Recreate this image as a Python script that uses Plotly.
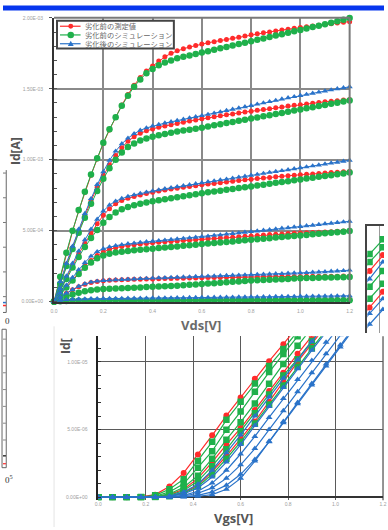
import plotly.graph_objects as go

# ================= DATA =================
# --- main chart: Id-Vds (Id in mA) ---
vds = [0.000, 0.025, 0.050, 0.075, 0.100, 0.125, 0.150, 0.175, 0.200, 0.225,
       0.250, 0.275, 0.300, 0.325, 0.350, 0.375, 0.400, 0.425, 0.450, 0.475,
       0.500, 0.525, 0.550, 0.575, 0.600, 0.625, 0.650, 0.675, 0.700, 0.725,
       0.750, 0.775, 0.800, 0.825, 0.850, 0.875, 0.900, 0.925, 0.950, 0.975,
       1.000, 1.025, 1.050, 1.075, 1.100, 1.125, 1.150, 1.175, 1.200]

meas_1 = [0, 0.170, 0.340, 0.495, 0.640, 0.770, 0.890, 1.005, 1.115, 1.210,
          1.300, 1.385, 1.460, 1.525, 1.580, 1.625, 1.660, 1.695, 1.725, 1.750,
          1.768, 1.782, 1.794, 1.805, 1.815, 1.824, 1.832, 1.840, 1.848, 1.856,
          1.864, 1.872, 1.880, 1.887, 1.894, 1.901, 1.908, 1.914, 1.920, 1.926,
          1.932, 1.938, 1.943, 1.948, 1.953, 1.958, 1.963, 1.968, 1.973]
meas_2 = [0, 0.130, 0.260, 0.380, 0.495, 0.605, 0.710, 0.805, 0.890, 0.965,
          1.030, 1.085, 1.130, 1.162, 1.187, 1.204, 1.217, 1.228, 1.238, 1.247,
          1.256, 1.264, 1.272, 1.280, 1.288, 1.295, 1.302, 1.309, 1.316, 1.323,
          1.330, 1.336, 1.342, 1.348, 1.354, 1.360, 1.366, 1.372, 1.378, 1.383,
          1.388, 1.393, 1.398, 1.403, 1.408, 1.412, 1.416, 1.420, 1.424]
meas_3 = [0, 0.085, 0.170, 0.255, 0.335, 0.410, 0.480, 0.548, 0.608, 0.655,
          0.690, 0.712, 0.728, 0.741, 0.752, 0.762, 0.771, 0.779, 0.786, 0.793,
          0.799, 0.805, 0.811, 0.817, 0.823, 0.828, 0.833, 0.838, 0.843, 0.848,
          0.853, 0.858, 0.863, 0.867, 0.871, 0.875, 0.879, 0.883, 0.887, 0.891,
          0.894, 0.897, 0.900, 0.903, 0.906, 0.909, 0.912, 0.915, 0.918]
meas_4 = [0, 0.055, 0.105, 0.155, 0.205, 0.250, 0.290, 0.325, 0.350, 0.368,
          0.380, 0.389, 0.396, 0.401, 0.406, 0.410, 0.414, 0.418, 0.421, 0.424,
          0.427, 0.430, 0.433, 0.436, 0.439, 0.442, 0.445, 0.448, 0.451, 0.454,
          0.457, 0.460, 0.463, 0.466, 0.469, 0.472, 0.475, 0.477, 0.479, 0.481,
          0.483, 0.485, 0.487, 0.489, 0.491, 0.493, 0.495, 0.497, 0.499]
meas_5 = [0, 0.030, 0.058, 0.083, 0.105, 0.122, 0.134, 0.142, 0.147, 0.150,
          0.152, 0.154, 0.156, 0.157, 0.158, 0.159, 0.160, 0.161, 0.162, 0.163,
          0.164, 0.165, 0.166, 0.167, 0.168, 0.169, 0.170, 0.170, 0.171, 0.172,
          0.172, 0.173, 0.174, 0.174, 0.175, 0.175, 0.176, 0.176, 0.177, 0.177,
          0.177, 0.178, 0.178, 0.178, 0.179, 0.179, 0.179, 0.180, 0.180]
meas_6 = [0, 0.004, 0.006, 0.007, 0.008, 0.008, 0.009, 0.009, 0.009, 0.010,
          0.010, 0.010, 0.010, 0.011, 0.011, 0.011, 0.011, 0.011, 0.011, 0.012,
          0.012, 0.012, 0.012, 0.012, 0.012, 0.012, 0.013, 0.013, 0.013, 0.013,
          0.013, 0.013, 0.013, 0.013, 0.014, 0.014, 0.014, 0.014, 0.014, 0.014,
          0.014, 0.014, 0.015, 0.015, 0.015, 0.015, 0.015, 0.015, 0.015]

simb_1 = [0, 0.175, 0.345, 0.500, 0.645, 0.775, 0.895, 1.010, 1.120, 1.215,
          1.300, 1.380, 1.450, 1.515, 1.565, 1.610, 1.640, 1.665, 1.685, 1.700,
          1.715, 1.725, 1.735, 1.745, 1.755, 1.765, 1.775, 1.785, 1.795, 1.805,
          1.815, 1.825, 1.835, 1.845, 1.855, 1.865, 1.875, 1.885, 1.895, 1.905,
          1.915, 1.925, 1.935, 1.945, 1.955, 1.965, 1.976, 1.987, 1.998]
simb_2 = [0, 0.125, 0.250, 0.370, 0.485, 0.590, 0.690, 0.780, 0.865, 0.940,
          1.000, 1.050, 1.090, 1.115, 1.135, 1.150, 1.162, 1.172, 1.181, 1.190,
          1.198, 1.205, 1.212, 1.219, 1.226, 1.234, 1.242, 1.250, 1.258, 1.266,
          1.274, 1.282, 1.290, 1.298, 1.306, 1.314, 1.322, 1.330, 1.338, 1.346,
          1.354, 1.362, 1.370, 1.378, 1.386, 1.394, 1.402, 1.410, 1.418]
simb_3 = [0, 0.080, 0.160, 0.240, 0.315, 0.385, 0.448, 0.505, 0.555, 0.596,
          0.628, 0.651, 0.667, 0.679, 0.690, 0.699, 0.707, 0.715, 0.722, 0.729,
          0.736, 0.743, 0.750, 0.757, 0.764, 0.770, 0.776, 0.782, 0.788, 0.794,
          0.800, 0.806, 0.812, 0.818, 0.824, 0.830, 0.837, 0.843, 0.849, 0.855,
          0.861, 0.867, 0.873, 0.879, 0.885, 0.891, 0.897, 0.903, 0.909]
simb_4 = [0, 0.050, 0.100, 0.148, 0.195, 0.238, 0.275, 0.305, 0.325, 0.338,
          0.346, 0.352, 0.357, 0.361, 0.365, 0.369, 0.373, 0.377, 0.381, 0.385,
          0.389, 0.393, 0.397, 0.401, 0.405, 0.409, 0.413, 0.416, 0.420, 0.424,
          0.428, 0.432, 0.436, 0.440, 0.443, 0.447, 0.451, 0.455, 0.459, 0.463,
          0.466, 0.470, 0.474, 0.478, 0.482, 0.486, 0.489, 0.493, 0.497]
simb_5 = [0, 0.018, 0.035, 0.050, 0.063, 0.073, 0.080, 0.085, 0.088, 0.090,
          0.092, 0.094, 0.096, 0.098, 0.100, 0.102, 0.104, 0.106, 0.108, 0.110,
          0.112, 0.115, 0.118, 0.121, 0.124, 0.127, 0.130, 0.133, 0.136, 0.139,
          0.142, 0.145, 0.148, 0.150, 0.152, 0.154, 0.156, 0.158, 0.160, 0.162,
          0.164, 0.166, 0.167, 0.168, 0.169, 0.170, 0.171, 0.172, 0.173]
simb_6 = [0, 0.003, 0.004, 0.005, 0.005, 0.006, 0.006, 0.006, 0.006, 0.007,
          0.007, 0.007, 0.007, 0.007, 0.007, 0.007, 0.008, 0.008, 0.008, 0.008,
          0.008, 0.008, 0.008, 0.008, 0.008, 0.009, 0.009, 0.009, 0.009, 0.009,
          0.009, 0.009, 0.009, 0.009, 0.009, 0.010, 0.010, 0.010, 0.010, 0.010,
          0.010, 0.010, 0.010, 0.010, 0.010, 0.010, 0.010, 0.010, 0.010]

sima_2 = [0, 0.140, 0.270, 0.390, 0.510, 0.620, 0.725, 0.825, 0.915, 0.995,
          1.060, 1.112, 1.152, 1.183, 1.207, 1.224, 1.237, 1.248, 1.258, 1.267,
          1.276, 1.285, 1.294, 1.302, 1.310, 1.319, 1.328, 1.337, 1.346, 1.355,
          1.364, 1.373, 1.382, 1.391, 1.400, 1.409, 1.418, 1.427, 1.436, 1.444,
          1.452, 1.460, 1.468, 1.476, 1.484, 1.492, 1.500, 1.507, 1.514]
sima_3 = [0, 0.090, 0.180, 0.270, 0.355, 0.435, 0.510, 0.580, 0.638, 0.680,
          0.708, 0.727, 0.741, 0.752, 0.762, 0.771, 0.779, 0.787, 0.795, 0.802,
          0.809, 0.816, 0.823, 0.830, 0.837, 0.844, 0.850, 0.857, 0.863, 0.870,
          0.877, 0.883, 0.890, 0.896, 0.903, 0.910, 0.916, 0.923, 0.929, 0.936,
          0.943, 0.949, 0.956, 0.962, 0.969, 0.976, 0.982, 0.989, 0.996]
sima_4 = [0, 0.060, 0.115, 0.170, 0.225, 0.275, 0.320, 0.352, 0.372, 0.385,
          0.394, 0.401, 0.407, 0.412, 0.417, 0.421, 0.425, 0.429, 0.433, 0.437,
          0.441, 0.445, 0.449, 0.453, 0.457, 0.461, 0.466, 0.470, 0.475, 0.479,
          0.484, 0.488, 0.493, 0.497, 0.502, 0.506, 0.511, 0.516, 0.520, 0.525,
          0.529, 0.534, 0.538, 0.543, 0.548, 0.552, 0.557, 0.561, 0.566]
sima_5 = [0, 0.030, 0.060, 0.085, 0.108, 0.125, 0.137, 0.144, 0.148, 0.151,
          0.153, 0.155, 0.157, 0.159, 0.161, 0.163, 0.165, 0.167, 0.168, 0.170,
          0.171, 0.173, 0.174, 0.176, 0.177, 0.179, 0.180, 0.182, 0.183, 0.185,
          0.186, 0.188, 0.189, 0.191, 0.192, 0.194, 0.196, 0.197, 0.199, 0.201,
          0.202, 0.204, 0.206, 0.208, 0.210, 0.213, 0.215, 0.218, 0.221]
sima_6 = [0, 0.008, 0.013, 0.016, 0.018, 0.019, 0.020, 0.020, 0.021, 0.021,
          0.022, 0.022, 0.023, 0.023, 0.024, 0.024, 0.025, 0.025, 0.026, 0.026,
          0.027, 0.027, 0.028, 0.028, 0.029, 0.029, 0.030, 0.030, 0.031, 0.031,
          0.032, 0.032, 0.033, 0.033, 0.034, 0.034, 0.035, 0.035, 0.036, 0.036,
          0.037, 0.037, 0.038, 0.038, 0.039, 0.039, 0.040, 0.040, 0.041]

main_xticks = [0.0, 0.2, 0.4, 0.6, 0.8, 1.0, 1.2]
main_xticktext = ["0.0", "0.2", "0.4", "0.6", "0.8", "1.0", "1.2"]
main_yticks = [0.0, 0.5, 1.0, 1.5, 2.0]
main_yticktext = ["0.00E+00", "5.00E-04", "1.00E-03", "1.50E-03", "2.00E-03"]

legend_names = ["劣化前の測定値", "劣化前のシミュレーション", "劣化後のシミュレーション"]

# --- lower chart: Id-Vgs (Id in units of 1e-5 A) ---
vgs = [0.00, 0.06, 0.12, 0.18, 0.24, 0.30, 0.36, 0.42, 0.48, 0.54, 0.60,
       0.66, 0.72, 0.78, 0.84, 0.90, 0.96, 1.02, 1.08, 1.14, 1.20]
tf_meas_1 = [0, 0, 0, 0.003, 0.020, 0.080, 0.180, 0.316, 0.458, 0.604, 0.737, 0.876, 1.005, 1.131, 1.260, 1.390, 1.520, 1.650, 1.780, 1.910, 2.040]
tf_meas_2 = [0, 0, 0, 0, 0.003, 0.020, 0.060, 0.140, 0.260, 0.390, 0.511, 0.645, 0.785, 0.920, 1.060, 1.190, 1.320, 1.450, 1.580, 1.710, 1.840]
tf_meas_3 = [0, 0, 0, 0, 0.002, 0.010, 0.035, 0.090, 0.190, 0.305, 0.430, 0.560, 0.706, 0.852, 1.000, 1.135, 1.270, 1.400, 1.530, 1.660, 1.790]
tf_simb_1 = [0, 0, 0, 0.002, 0.015, 0.060, 0.134, 0.268, 0.410, 0.572, 0.706, 0.840, 0.969, 1.095, 1.225, 1.355, 1.485, 1.615, 1.745, 1.875, 2.005]
tf_simb_2 = [0, 0, 0, 0, 0.008, 0.040, 0.100, 0.219, 0.341, 0.499, 0.633, 0.779, 0.925, 1.058, 1.190, 1.320, 1.450, 1.580, 1.710, 1.840, 1.970]
tf_simb_3 = [0, 0, 0, 0, 0.005, 0.025, 0.075, 0.160, 0.285, 0.426, 0.555, 0.693, 0.839, 0.985, 1.119, 1.250, 1.380, 1.510, 1.640, 1.770, 1.900]
tf_simb_4 = [0, 0, 0, 0, 0.002, 0.015, 0.050, 0.120, 0.230, 0.355, 0.487, 0.620, 0.760, 0.900, 1.020, 1.155, 1.290, 1.420, 1.550, 1.680, 1.810]
tf_simb_5 = [0, 0, 0, 0, 0.001, 0.008, 0.030, 0.080, 0.170, 0.285, 0.410, 0.545, 0.685, 0.825, 0.965, 1.100, 1.235, 1.370, 1.500, 1.630, 1.760]
tf_sima_1 = [0, 0, 0, 0, 0.002, 0.010, 0.040, 0.097, 0.200, 0.330, 0.460, 0.600, 0.740, 0.880, 1.015, 1.150, 1.285, 1.420, 1.550, 1.680, 1.810]
tf_sima_2 = [0, 0, 0, 0, 0.001, 0.006, 0.025, 0.070, 0.150, 0.260, 0.390, 0.530, 0.670, 0.810, 0.950, 1.085, 1.220, 1.355, 1.490, 1.620, 1.750]
tf_sima_3 = [0, 0, 0, 0, 0, 0.004, 0.015, 0.045, 0.105, 0.200, 0.320, 0.450, 0.590, 0.730, 0.870, 1.010, 1.145, 1.280, 1.415, 1.550, 1.680]
tf_sima_4 = [0, 0, 0, 0, 0, 0.002, 0.010, 0.030, 0.070, 0.140, 0.240, 0.360, 0.500, 0.640, 0.780, 0.920, 1.060, 1.200, 1.335, 1.470, 1.600]
tf_sima_5 = [0, 0, 0, 0, 0, 0.001, 0.005, 0.015, 0.040, 0.090, 0.170, 0.280, 0.410, 0.550, 0.690, 0.830, 0.970, 1.110, 1.250, 1.390, 1.530]
tf_sima_6 = [0, 0, 0, 0, 0, 0, 0.003, 0.008, 0.020, 0.060, 0.140, 0.268, 0.414, 0.560, 0.700, 0.840, 0.985, 1.125, 1.265, 1.405, 1.545]

tf_xticks = [0.0, 0.2, 0.4, 0.6, 0.8, 1.0, 1.2]
tf_xticktext = ["0.0", "0.2", "0.4", "0.6", "0.8", "1.0", "1.2"]
tf_yticks = [0.0, 0.5, 1.0]
tf_yticktext = ["0.00E+00", "5.00E-06", "1.00E-05"]

# --- right-edge partial chart (same kind of Id-Vgs curves) ---
vgs_r = [0.44, 0.50, 0.56, 0.62]
r_meas_1 = [0.745, 0.860, 0.977, 1.090]
r_meas_2 = [0.475, 0.590, 0.707, 0.820]
r_simb_1 = [0.875, 0.984, 1.093, 1.200]
r_simb_2 = [0.817, 0.926, 1.035, 1.140]
r_simb_3 = [0.635, 0.743, 0.860, 0.970]
r_simb_4 = [0.545, 0.655, 0.765, 0.875]
r_sima_1 = [0.690, 0.801, 0.926, 1.040]
r_sima_2 = [0.435, 0.546, 0.655, 0.765]
r_sima_3 = [0.355, 0.466, 0.575, 0.685]

# ================= STYLE / LAYOUT =================
W, H = 388, 530
def fx(p):
    return p / W
def fy(p):
    return 1 - p / H

RED = "#ff2b2b"
GREEN = "#1fb04b"
BLUE = "#2a73c9"
TICKFONT = dict(family="Liberation Sans", size=5, color="#a0a0a0")

fig = go.Figure()

# lower chart (x / y)
for ys in [tf_meas_1, tf_meas_2, tf_meas_3]:
    fig.add_trace(go.Scatter(x=vgs, y=ys, xaxis="x", yaxis="y", mode="lines+markers",
                             line=dict(color=RED, width=1.2),
                             marker=dict(color=RED, size=6, symbol="circle"),
                             showlegend=False, hoverinfo="skip"))
for ys in [tf_simb_1, tf_simb_2, tf_simb_3, tf_simb_4, tf_simb_5]:
    fig.add_trace(go.Scatter(x=vgs, y=ys, xaxis="x", yaxis="y", mode="lines+markers",
                             line=dict(color=GREEN, width=1.2),
                             marker=dict(color=GREEN, size=6.5, symbol="square"),
                             showlegend=False, hoverinfo="skip"))
for ys in [tf_sima_1, tf_sima_2, tf_sima_3, tf_sima_4, tf_sima_5, tf_sima_6]:
    fig.add_trace(go.Scatter(x=vgs, y=ys, xaxis="x", yaxis="y", mode="lines+markers",
                             line=dict(color=BLUE, width=1.2),
                             marker=dict(color=BLUE, size=6, symbol="triangle-up"),
                             showlegend=False, hoverinfo="skip"))

# right partial chart (x2 / y2)
for ys in [r_meas_1, r_meas_2]:
    fig.add_trace(go.Scatter(x=vgs_r, y=ys, xaxis="x2", yaxis="y2", mode="lines+markers",
                             line=dict(color=RED, width=1.2),
                             marker=dict(color=RED, size=6, symbol="circle"),
                             showlegend=False, hoverinfo="skip"))
for ys in [r_simb_1, r_simb_2, r_simb_3, r_simb_4]:
    fig.add_trace(go.Scatter(x=vgs_r, y=ys, xaxis="x2", yaxis="y2", mode="lines+markers",
                             line=dict(color=GREEN, width=1.2),
                             marker=dict(color=GREEN, size=6.5, symbol="square"),
                             showlegend=False, hoverinfo="skip"))
for ys in [r_sima_1, r_sima_2, r_sima_3]:
    fig.add_trace(go.Scatter(x=vgs_r, y=ys, xaxis="x2", yaxis="y2", mode="lines+markers",
                             line=dict(color=BLUE, width=1.2),
                             marker=dict(color=BLUE, size=6, symbol="triangle-up"),
                             showlegend=False, hoverinfo="skip"))

# main chart (x3 / y3)
for ys in [meas_1, meas_2, meas_3, meas_4, meas_5, meas_6]:
    fig.add_trace(go.Scatter(x=vds, y=ys, xaxis="x3", yaxis="y3", mode="lines+markers",
                             name=legend_names[0],
                             line=dict(color=RED, width=1),
                             marker=dict(color=RED, size=5, symbol="circle"),
                             cliponaxis=False, showlegend=False, hoverinfo="skip"))
for ys in [simb_1, simb_2, simb_3, simb_4, simb_5, simb_6]:
    fig.add_trace(go.Scatter(x=vds, y=ys, xaxis="x3", yaxis="y3", mode="lines+markers",
                             name=legend_names[1],
                             line=dict(color=GREEN, width=1),
                             marker=dict(color=GREEN, size=6.5, symbol="circle"),
                             cliponaxis=False, showlegend=False, hoverinfo="skip"))
for ys in [sima_2, sima_3, sima_4, sima_5, sima_6]:
    fig.add_trace(go.Scatter(x=vds, y=ys, xaxis="x3", yaxis="y3", mode="lines+markers",
                             name=legend_names[2],
                             line=dict(color=BLUE, width=1),
                             marker=dict(color=BLUE, size=5.5, symbol="triangle-up"),
                             cliponaxis=False, showlegend=False, hoverinfo="skip"))

tf_top = (500 - 337) / 137.0
tf_bot = -3 / 137.0

fig.update_layout(
    width=W, height=H, autosize=False,
    margin=dict(l=0, r=0, t=0, b=0, pad=0),
    paper_bgcolor="white", plot_bgcolor="white",
    showlegend=False,
    # lower chart
    xaxis=dict(domain=[fx(97), fx(387)], range=[0, 1.2], anchor="y",
               tickmode="array", tickvals=tf_xticks, ticktext=tf_xticktext,
               tickfont=TICKFONT, showgrid=True, gridcolor="#5a5a5a", gridwidth=1.3,
               showline=False, zeroline=False, ticks=""),
    yaxis=dict(domain=[fy(503), fy(337)], range=[tf_bot, tf_top], anchor="x",
               tickmode="array", tickvals=tf_yticks, ticktext=tf_yticktext,
               tickfont=TICKFONT, showgrid=True, gridcolor="#5a5a5a", gridwidth=1.3,
               showline=True, linecolor="#222", linewidth=1.5,
               zeroline=True, zerolinecolor="#333", zerolinewidth=1.5,
               ticks="", ticklabelstandoff=8,
               minor=dict(tickmode="linear", tick0=0, dtick=0.1, ticks="inside",
                          ticklen=3, tickcolor="#333", showgrid=False)),
    # right partial chart
    xaxis2=dict(domain=[fx(371), 1.0], range=[0.49, 0.565], anchor="y2", side="top",
                showticklabels=False, ticks="", showgrid=True, tickmode="array",
                tickvals=[0.544], gridcolor="#9a9a9a", gridwidth=1,
                showline=True, linecolor="#444", linewidth=1.5, zeroline=False),
    yaxis2=dict(domain=[fy(334), fy(226)], range=[0.4, 0.4 + 108 / 137.0], anchor="x2",
                showticklabels=False, ticks="", showgrid=False,
                showline=True, linecolor="#444", linewidth=1.5, zeroline=False),
    # main chart
    xaxis3=dict(domain=[fx(52), fx(353)], range=[0, 1.2], anchor="y3",
                tickmode="array", tickvals=main_xticks, ticktext=main_xticktext,
                tickfont=TICKFONT, showgrid=True, gridcolor="#8a8a8a", gridwidth=1.6,
                showline=True, linecolor="#333", linewidth=2, zeroline=False,
                ticks="", ticklabelstandoff=3),
    yaxis3=dict(domain=[fy(302), fy(15)], range=[0, 2.0], anchor="x3",
                tickmode="array", tickvals=main_yticks, ticktext=main_yticktext,
                tickfont=TICKFONT, showgrid=True, gridcolor="#8a8a8a", gridwidth=1.6,
                showline=True, linecolor="#333", linewidth=2, zeroline=False,
                ticks="outside", ticklen=3, tickcolor="#555", ticklabelstandoff=5,
                minor=dict(tickmode="linear", tick0=0, dtick=0.1, ticks="inside",
                           ticklen=3, tickcolor="#555", showgrid=False)),
)

shapes = []
# main chart frame top/right
shapes.append(dict(type="line", xref="x3 domain", yref="y3 domain", x0=0, x1=1, y0=1, y1=1,
                   line=dict(color="#7a7a7a", width=2), layer="above"))
shapes.append(dict(type="line", xref="x3 domain", yref="y3 domain", x0=1, x1=1, y0=0, y1=1,
                   line=dict(color="#7a7a7a", width=2), layer="above"))
# lower chart right gridline
shapes.append(dict(type="line", xref="x domain", yref="y domain", x0=1, x1=1, y0=0, y1=1,
                   line=dict(color="#5a5a5a", width=1.3), layer="below"))
# top blue bar
shapes.append(dict(type="rect", xref="paper", yref="paper", x0=0, x1=1, y0=fy(7.5), y1=fy(2.5),
                   fillcolor="#0636ee", line=dict(width=0), layer="above"))
# faint border of lower chart image
shapes.append(dict(type="line", xref="paper", yref="paper", x0=fx(52), x1=fx(52), y0=fy(530), y1=fy(327),
                   line=dict(color="#e4e4e4", width=1), layer="below"))
# left edge partial charts
shapes.append(dict(type="line", xref="paper", yref="paper", x0=fx(3.3), x1=fx(3.3), y0=fy(313), y1=fy(169),
                   line=dict(color="#666", width=1), layer="above"))
for ty in [172, 197, 222, 247, 272, 297]:
    shapes.append(dict(type="line", xref="paper", yref="paper", x0=0, x1=fx(3), y0=fy(ty), y1=fy(ty),
                       line=dict(color="#777", width=1), layer="above"))
shapes.append(dict(type="line", xref="paper", yref="paper", x0=0, x1=fx(3.3), y0=fy(313), y1=fy(313),
                   line=dict(color="#666", width=1), layer="above"))
shapes.append(dict(type="line", xref="paper", yref="paper", x0=0, x1=fx(3), y0=fy(303), y1=fy(303),
                   line=dict(color=BLUE, width=1.5), layer="above"))
shapes.append(dict(type="line", xref="paper", yref="paper", x0=0, x1=fx(3), y0=fy(306), y1=fy(306),
                   line=dict(color=RED, width=1.5), layer="above"))
shapes.append(dict(type="rect", xref="paper", yref="paper", x0=fx(-1), x1=fx(3.3), y0=fy(470), y1=fy(330),
                   line=dict(color="#666", width=1), layer="above"))
for ty in [340, 357, 374, 391, 408, 425, 442]:
    shapes.append(dict(type="line", xref="paper", yref="paper", x0=0, x1=fx(3), y0=fy(ty), y1=fy(ty),
                       line=dict(color="#888", width=1), layer="above"))
shapes.append(dict(type="line", xref="paper", yref="paper", x0=0, x1=fx(3), y0=fy(458), y1=fy(458),
                   line=dict(color="#333", width=1.5), layer="above"))
shapes.append(dict(type="line", xref="paper", yref="paper", x0=0, x1=fx(3), y0=fy(466), y1=fy(466),
                   line=dict(color=RED, width=1.2), layer="above"))

# legend (drawn manually to match the compact box)
shapes.append(dict(type="rect", xref="paper", yref="paper", x0=fx(55), x1=fx(174), y0=fy(46), y1=fy(18),
                   fillcolor="white", line=dict(color="#444", width=2), layer="above"))
rows = [23.5, 32.3, 41.2]
cols = [RED, GREEN, BLUE]
for ry, c in zip(rows, cols):
    shapes.append(dict(type="line", xref="paper", yref="paper", x0=fx(58), x1=fx(79), y0=fy(ry), y1=fy(ry),
                       line=dict(color=c, width=1.2), layer="above"))
shapes.append(dict(type="circle", xref="paper", yref="paper", x0=fx(66.5), x1=fx(71.5),
                   y0=fy(rows[0] + 2.5), y1=fy(rows[0] - 2.5), fillcolor=RED, line=dict(width=0), layer="above"))
shapes.append(dict(type="circle", xref="paper", yref="paper", x0=fx(65.7), x1=fx(72.3),
                   y0=fy(rows[1] + 3.3), y1=fy(rows[1] - 3.3), fillcolor=GREEN, line=dict(width=0), layer="above"))
tri = "M {a},{b} L {c},{d} L {e},{f} Z".format(
    a=fx(66), b=fy(rows[2] + 2.3), c=fx(72), d=fy(rows[2] + 2.3), e=fx(69), f=fy(rows[2] - 3))
shapes.append(dict(type="path", xref="paper", yref="paper", path=tri,
                   fillcolor=BLUE, line=dict(width=0), layer="above"))

annotations = []
for ry, t in zip(rows, legend_names):
    annotations.append(dict(xref="paper", yref="paper", x=fx(81), y=fy(ry), text=t, showarrow=False,
                            xanchor="left", yanchor="middle",
                            font=dict(family="Noto Sans CJK JP", size=7.3, color="#666")))
# axis titles
annotations.append(dict(xref="paper", yref="paper", x=fx(202), y=fy(326), text="<b>Vds[V]</b>",
                        showarrow=False, xanchor="center", yanchor="middle",
                        font=dict(family="Open Sans", size=13, color="#6a6a6a")))
annotations.append(dict(xref="paper", yref="paper", x=fx(13), y=fy(150), text="<b>Id[A]</b>",
                        showarrow=False, textangle=-90, xanchor="center", yanchor="middle",
                        font=dict(family="Open Sans", size=12, color="#555")))
annotations.append(dict(xref="paper", yref="paper", x=fx(235), y=fy(521), text="<b>Vgs[V]</b>",
                        showarrow=False, xanchor="center", yanchor="middle",
                        font=dict(family="Open Sans", size=13, color="#555")))
annotations.append(dict(xref="paper", yref="paper", x=fx(63), y=fy(347), text="<b>Id[</b>",
                        showarrow=False, textangle=-90, xanchor="center", yanchor="middle",
                        font=dict(family="Open Sans", size=12, color="#555")))
# fragments of neighbouring charts at the left edge
annotations.append(dict(xref="paper", yref="paper", x=0, y=fy(322), text="0",
                        showarrow=False, xanchor="left", yanchor="middle",
                        font=dict(family="Liberation Serif", size=9, color="#333")))
annotations.append(dict(xref="paper", yref="paper", x=0, y=fy(481), text="0<sup>5</sup>",
                        showarrow=False, xanchor="left", yanchor="middle",
                        font=dict(family="Liberation Serif", size=9, color="#333")))

fig.update_layout(shapes=shapes, annotations=annotations)

fig.write_html("out.html")
